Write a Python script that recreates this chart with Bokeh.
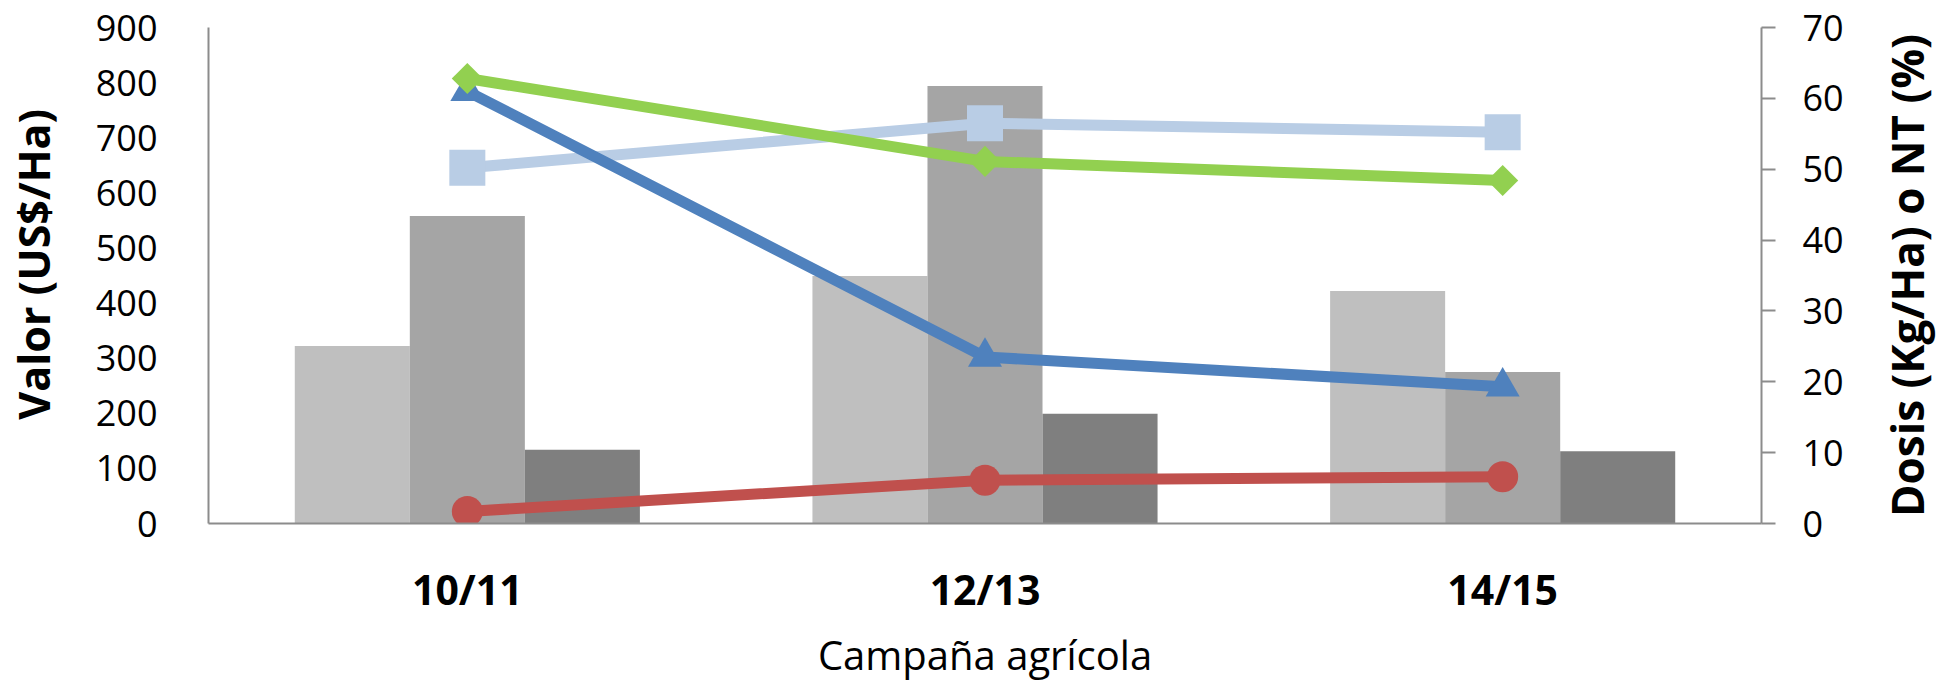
import math
from bokeh.plotting import figure
from bokeh.layouts import row
from bokeh.models import (FactorRange, Range1d, LinearAxis, FixedTicker,
                          ColumnDataSource)
from bokeh.transform import dodge
from bokeh.embed import file_html
from bokeh.resources import INLINE

# ---- data ----
campaigns = ["10/11", "12/13", "14/15"]
left_ticks = [0, 100, 200, 300, 400, 500, 600, 700, 800, 900]
right_ticks = [0, 10, 20, 30, 40, 50, 60, 70]

bars_light = [322, 449, 422]      # US$/Ha
bars_mid = [558, 794, 275]        # US$/Ha
bars_dark = [134, 199, 131]       # US$/Ha

line_square = [50.2, 56.5, 55.2]      # light blue, squares
line_triangle = [61.0, 23.5, 19.3]    # blue, triangles
line_diamond = [62.8, 51.1, 48.4]     # green, diamonds
line_circle = [1.7, 6.1, 6.6]         # red, circles

left_title = "Valor (US$/Ha)"
right_title = "Dosis (Kg/Ha) o NT (%)"
x_title = "Campaña agrícola"

src = ColumnDataSource(dict(
    x=campaigns, a=bars_light, b=bars_mid, c=bars_dark,
    sq=line_square, tri=line_triangle, dia=line_diamond, cir=line_circle,
))

FONT = "Open Sans"
AXIS_GRAY = "#8C8C8C"
NB = "\u00a0"
SIDE_W = 100

p = figure(
    x_range=FactorRange(factors=campaigns, range_padding=0),
    y_range=Range1d(0, 900),
    width=1954 - SIDE_W, height=688,
    output_backend="svg", toolbar_location=None,
    min_border_left=203, min_border_right=1954 - SIDE_W - 1761,
    min_border_top=27, min_border_bottom=155,
)
p.extra_y_ranges = {"r": Range1d(0, 70)}
p.outline_line_color = None
p.background_fill_color = "white"
p.border_fill_color = "white"
p.xgrid.visible = False
p.ygrid.visible = False

bw = 1 / 4.5
p.vbar(x=dodge("x", -bw, range=p.x_range), top="a", width=bw, source=src,
       fill_color="#BFBFBF", line_color=None)
p.vbar(x=dodge("x", 0, range=p.x_range), top="b", width=bw, source=src,
       fill_color="#A5A5A5", line_color=None)
p.vbar(x=dodge("x", bw, range=p.x_range), top="c", width=bw, source=src,
       fill_color="#7F7F7F", line_color=None)

LW = 11
# red circles
p.line(x="x", y="cir", source=src, y_range_name="r", line_color="#C0504D", line_width=LW)
p.scatter(x="x", y="cir", source=src, y_range_name="r", marker="circle", size=31,
          fill_color="#C0504D", line_color=None)
# light blue squares
p.line(x="x", y="sq", source=src, y_range_name="r", line_color="#B9CDE5", line_width=LW)
p.scatter(x="x", y="sq", source=src, y_range_name="r", marker="square", size=36,
          fill_color="#B9CDE5", line_color=None)
# blue triangles
p.line(x="x", y="tri", source=src, y_range_name="r", line_color="#4F81BD", line_width=LW)
p.scatter(x="x", y="tri", source=src, y_range_name="r", marker="triangle", size=34,
          fill_color="#4F81BD", line_color=None)
# green diamonds
p.line(x="x", y="dia", source=src, y_range_name="r", line_color="#92D050", line_width=LW)
p.scatter(x="x", y="dia", source=src, y_range_name="r", marker="square", size=22,
          angle=math.pi / 4, fill_color="#92D050", line_color=None)

# x axis
xa = p.xaxis[0]
xa.axis_line_color = AXIS_GRAY
xa.axis_line_width = 2
xa.major_tick_line_color = None
xa.major_tick_out = 0
xa.major_tick_in = 0
xa.minor_tick_line_color = None
xa.major_label_text_font = FONT
xa.major_label_text_font_size = "41px"
xa.major_label_text_font_style = "bold"
xa.major_label_text_color = "black"
xa.major_label_standoff = 37
xa.axis_label = x_title
xa.axis_label_standoff = 7
xa.axis_label_text_font = FONT
xa.axis_label_text_font_size = "40px"
xa.axis_label_text_font_style = "normal"
xa.axis_label_text_color = "black"

# left axis
ya = p.yaxis[0]
ya.ticker = FixedTicker(ticks=left_ticks)
ya.axis_line_color = AXIS_GRAY
ya.axis_line_width = 2
ya.major_tick_line_color = None
ya.major_tick_out = 0
ya.major_tick_in = 0
ya.minor_tick_line_color = None
ya.major_label_text_font = FONT
ya.major_label_text_font_size = "36px"
ya.major_label_text_color = "black"
ya.major_label_standoff = 51
ya.axis_label = NB * 2 + left_title
ya.axis_label_standoff = 30
ya.axis_label_text_font = FONT
ya.axis_label_text_font_size = "43px"
ya.axis_label_text_font_style = "bold"
ya.axis_label_text_color = "black"

# right axis
ra = LinearAxis(y_range_name="r", ticker=FixedTicker(ticks=right_ticks))
ra.axis_line_color = AXIS_GRAY
ra.axis_line_width = 2
ra.major_tick_line_color = AXIS_GRAY
ra.major_tick_line_width = 2
ra.major_tick_out = 14
ra.major_tick_in = 0
ra.minor_tick_line_color = None
ra.major_label_text_font = FONT
ra.major_label_text_font_size = "36px"
ra.major_label_text_color = "black"
ra.major_label_standoff = 27
p.add_layout(ra, "right")

# narrow side strip that carries the right-hand axis title (reads bottom to top)
p2 = figure(
    width=SIDE_W, height=688, x_range=Range1d(0, 1), y_range=Range1d(0, 1),
    x_axis_type=None, y_axis_type=None,
    output_backend="svg", toolbar_location=None,
    min_border_left=85, min_border_right=0, min_border_top=15, min_border_bottom=165,
)
p2.outline_line_color = None
p2.background_fill_color = "white"
p2.border_fill_color = "white"
p2.xgrid.visible = False
p2.ygrid.visible = False
ta = LinearAxis(ticker=FixedTicker(ticks=[]))
ta.axis_line_color = None
ta.major_tick_line_color = None
ta.minor_tick_line_color = None
ta.major_tick_out = 0
ta.major_tick_in = 0
ta.major_label_text_font_size = "0px"
ta.axis_label = right_title
ta.axis_label_standoff = 3
ta.axis_label_text_font = FONT
ta.axis_label_text_font_size = "44px"
ta.axis_label_text_font_style = "bold"
ta.axis_label_text_color = "black"
p2.add_layout(ta, "left")

layout = row(p, p2, spacing=0)
open("out.html", "w").write(file_html(layout, INLINE))
